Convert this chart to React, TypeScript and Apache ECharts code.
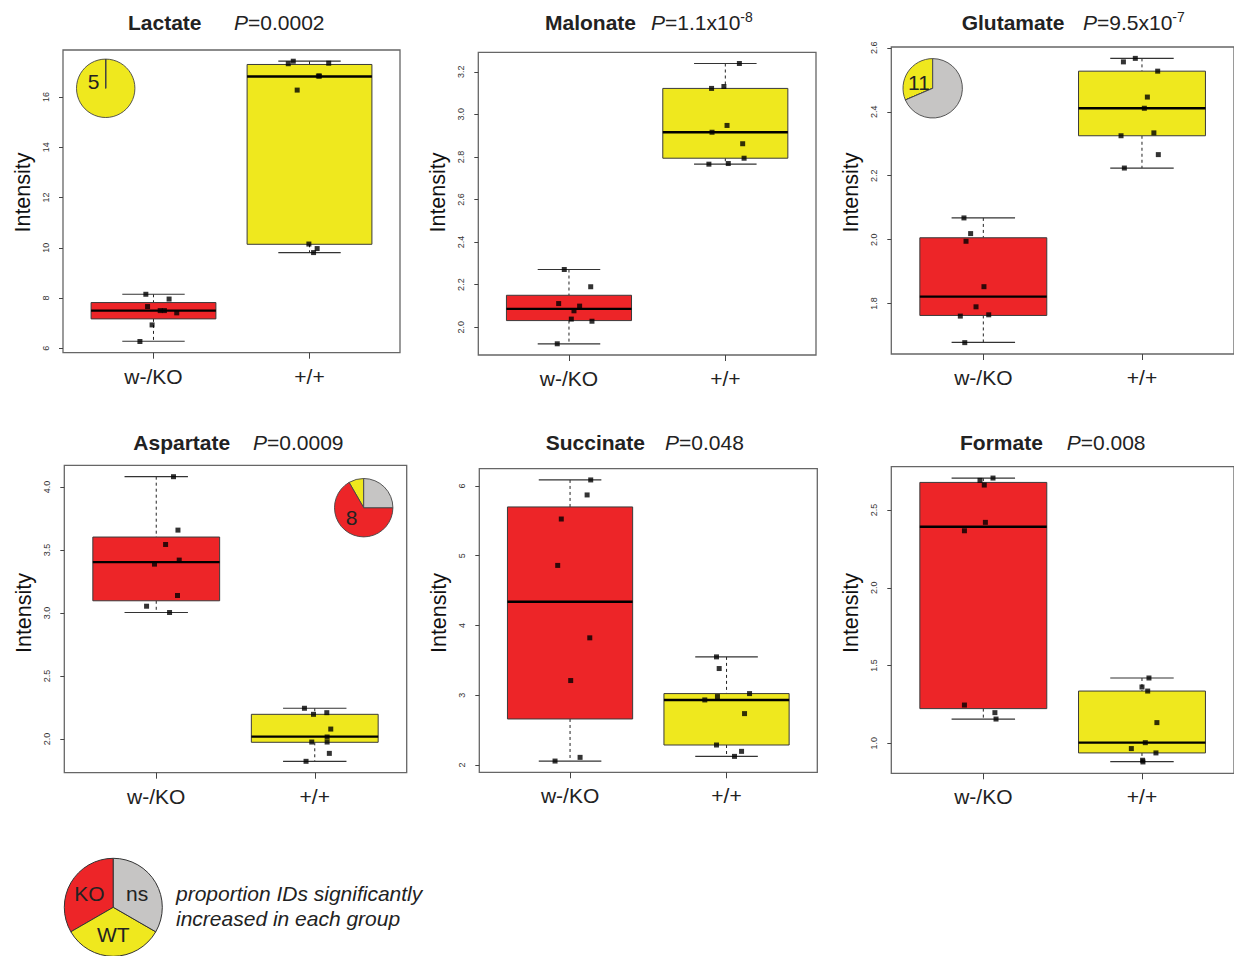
import React, { useEffect, useRef } from "react";
import * as echarts from "echarts";

// ---------- data ----------
const groups = ["w-/KO", "+/+"];
const metaboliteNames = ["Lactate", "Malonate", "Glutamate", "Aspartate", "Succinate", "Formate"];
const yAxisTitle = "Intensity";

const lactateP = "{i|P}{n|=0.0002}";
const malonateP = "{i|P}{n|=1.1x10}{s|-8}";
const glutamateP = "{i|P}{n|=9.5x10}{s|-7}";
const aspartateP = "{i|P}{n|=0.0009}";
const succinateP = "{i|P}{n|=0.048}";
const formateP = "{i|P}{n|=0.008}";

// box stats: [min, Q1, median, Q3, max]
const lactateBoxKO = [6.28, 7.17, 7.5, 7.82, 8.15];
const lactateBoxWT = [9.81, 10.14, 16.82, 17.3, 17.43];
const malonateBoxKO = [1.922, 2.031, 2.086, 2.15, 2.271];
const malonateBoxWT = [2.766, 2.794, 2.916, 3.122, 3.239];
const glutamateBoxKO = [1.679, 1.763, 1.822, 2.006, 2.068];
const glutamateBoxWT = [2.224, 2.325, 2.411, 2.527, 2.567];
const aspartateBoxKO = [3.004, 3.097, 3.404, 3.603, 4.082];
const aspartateBoxWT = [1.823, 1.974, 2.019, 2.196, 2.244];
const succinateBoxKO = [2.057, 2.66, 4.34, 5.699, 6.086];
const succinateBoxWT = [2.124, 2.287, 2.933, 3.024, 3.55];
const formateBoxKO = [1.156, 1.223, 2.393, 2.678, 2.706];
const formateBoxWT = [0.882, 0.938, 1.004, 1.336, 1.42];

// points: [jittered group position, intensity]
const lactatePtsKO = [[0.951, 8.15], [1.1, 7.96], [0.962, 7.66], [1.043, 7.5], [1.07, 7.5], [1.149, 7.41], [0.991, 6.93], [0.913, 6.27]];
const lactatePtsWT = [[1.864, 17.33], [1.896, 17.43], [2.123, 17.35], [2.057, 16.84], [2.064, 16.84], [1.921, 16.28], [1.996, 10.15], [2.049, 9.97], [2.026, 9.81]];
const malonatePtsKO = [[0.97, 2.271], [1.139, 2.19], [0.934, 2.111], [1.068, 2.099], [1.032, 2.077], [1.015, 2.038], [1.147, 2.028], [0.925, 1.922]];
const malonatePtsWT = [[2.09, 3.239], [1.912, 3.122], [1.991, 3.131], [2.011, 2.948], [1.915, 2.916], [2.111, 2.862], [2.12, 2.794], [1.895, 2.766], [2.019, 2.769]];
const glutamatePtsKO = [[0.878, 2.068], [0.92, 2.019], [0.891, 1.995], [1.004, 1.853], [0.954, 1.79], [0.855, 1.761], [1.034, 1.765], [0.883, 1.678]];
const glutamatePtsWT = [[1.958, 2.567], [1.883, 2.556], [2.099, 2.527], [2.034, 2.446], [2.015, 2.411], [1.868, 2.325], [2.075, 2.334], [2.103, 2.266], [1.889, 2.224]];
const aspartatePtsKO = [[1.109, 4.082], [1.137, 3.658], [1.059, 3.544], [1.145, 3.42], [0.989, 3.388], [1.134, 3.139], [0.939, 3.054], [1.084, 3.004]];
const aspartatePtsWT = [[1.935, 2.244], [1.992, 2.196], [2.076, 2.209], [2.101, 2.079], [2.078, 2.016], [1.981, 1.976], [2.078, 1.976], [2.092, 1.886], [1.945, 1.823]];
const succinatePtsKO = [[1.132, 6.086], [1.109, 5.871], [0.944, 5.526], [0.921, 4.861], [1.126, 3.823], [1.004, 3.211], [1.064, 2.11], [0.904, 2.057]];
const succinatePtsWT = [[1.936, 3.55], [1.953, 3.383], [2.147, 3.024], [1.942, 2.981], [1.861, 2.933], [2.115, 2.737], [1.936, 2.287], [2.096, 2.196], [2.051, 2.124]];
const formatePtsKO = [[1.061, 2.706], [0.979, 2.691], [1.006, 2.661], [1.013, 2.421], [0.881, 2.367], [0.881, 1.246], [1.073, 1.197], [1.08, 1.156]];
const formatePtsWT = [[2.044, 1.42], [2.0, 1.362], [2.036, 1.336], [2.094, 1.133], [2.021, 1.004], [1.933, 0.966], [2.088, 0.938], [2.004, 0.891], [2.006, 0.88]];

// y tick labels
const lactateTicks = ["6", "8", "10", "12", "14", "16"];
const malonateTicks = ["2.0", "2.2", "2.4", "2.6", "2.8", "3.0", "3.2"];
const glutamateTicks = ["1.8", "2.0", "2.2", "2.4", "2.6"];
const aspartateTicks = ["2.0", "2.5", "3.0", "3.5", "4.0"];
const succinateTicks = ["2", "3", "4", "5", "6"];
const formateTicks = ["1.0", "1.5", "2.0", "2.5"];

// inset pies: counts [WT, KO, ns]
const pieNames = ["WT", "KO", "ns"];
const lactatePie = [5, 0, 0];
const glutamatePie = [11, 0, 24];
const aspartatePie = [1, 8, 3];
const lactatePieLabel = "5";
const glutamatePieLabel = "11";
const aspartatePieLabel = "8";

// key pie
const keyNames = ["KO", "WT", "ns"];
const keyValues = [1, 1, 1];
const keyText1 = "proportion IDs significantly";
const keyText2 = "increased in each group";

// ---------- styles / layout ----------
const FONT = '"Liberation Sans", Arial, Helvetica, sans-serif';
const RED = "#ED2528";
const YELLOW = "#EFE81E";
const GRAY = "#C6C5C4";
const groupColors = [RED, YELLOW];
const pieColorMap: Record<string, string> = { WT: YELLOW, KO: RED, ns: GRAY };

const gridRects = [
  [63, 50, 337, 302.7],
  [478.3, 52.3, 337.7, 302.7],
  [891.3, 47, 343.4, 307],
  [64.3, 465.3, 342.4, 307.4],
  [479.3, 468.7, 338, 303.6],
  [891.3, 466.7, 343.4, 306.6],
];
const titlePos = [
  [128, 234, 22.7],
  [545, 651, 22.7],
  [961.7, 1083, 22.7],
  [133.3, 253, 442.7],
  [545.7, 665, 442.7],
  [960, 1066.7, 442.7],
];
// centre of the rotated "Intensity" label in each panel
const yTitlePos = [
  [22.5, 192.5],
  [437.5, 192.5],
  [851, 192.5],
  [23.5, 613],
  [438.5, 613],
  [851, 613],
];

const panels = [
  { p: lactateP, box: [lactateBoxKO, lactateBoxWT], pts: [lactatePtsKO, lactatePtsWT], ticks: lactateTicks },
  { p: malonateP, box: [malonateBoxKO, malonateBoxWT], pts: [malonatePtsKO, malonatePtsWT], ticks: malonateTicks },
  { p: glutamateP, box: [glutamateBoxKO, glutamateBoxWT], pts: [glutamatePtsKO, glutamatePtsWT], ticks: glutamateTicks },
  { p: aspartateP, box: [aspartateBoxKO, aspartateBoxWT], pts: [aspartatePtsKO, aspartatePtsWT], ticks: aspartateTicks },
  { p: succinateP, box: [succinateBoxKO, succinateBoxWT], pts: [succinatePtsKO, succinatePtsWT], ticks: succinateTicks },
  { p: formateP, box: [formateBoxKO, formateBoxWT], pts: [formatePtsKO, formatePtsWT], ticks: formateTicks },
];

const insetPies = [
  { values: lactatePie, center: [105.7, 88.3], r: 29.2, label: lactatePieLabel, lx: 93.5, ly: 81 },
  { values: glutamatePie, center: [932.7, 88.3], r: 29.7, label: glutamatePieLabel, lx: 919, ly: 82 },
  { values: aspartatePie, center: [363.7, 507.7], r: 29.2, label: aspartatePieLabel, lx: 351.7, ly: 517.5 },
];

const BOX_HALF = 0.4;
const STAPLE_HALF = 0.2;

function renderBox(params: any, api: any) {
  const x = api.value(0);
  const mn = api.value(1);
  const q1 = api.value(2);
  const md = api.value(3);
  const q3 = api.value(4);
  const mx = api.value(5);
  const [cx, yMax] = api.coord([x, mx]);
  const yQ3 = api.coord([x, q3])[1];
  const yMd = api.coord([x, md])[1];
  const yQ1 = api.coord([x, q1])[1];
  const yMin = api.coord([x, mn])[1];
  const xl = api.coord([x - BOX_HALF, md])[0];
  const xr = api.coord([x + BOX_HALF, md])[0];
  const sl = api.coord([x - STAPLE_HALF, md])[0];
  const sr = api.coord([x + STAPLE_HALF, md])[0];
  const fill = groupColors[params.dataIndex];
  const dash = { stroke: "#222", lineWidth: 1, lineDash: [3, 3] };
  const staple = { stroke: "#333", lineWidth: 1.2 };
  return {
    type: "group",
    children: [
      { type: "line", shape: { x1: cx, y1: yMax, x2: cx, y2: yQ3 }, style: dash },
      { type: "line", shape: { x1: cx, y1: yQ1, x2: cx, y2: yMin }, style: dash },
      { type: "line", shape: { x1: sl, y1: yMax, x2: sr, y2: yMax }, style: staple },
      { type: "line", shape: { x1: sl, y1: yMin, x2: sr, y2: yMin }, style: staple },
      { type: "rect", shape: { x: xl, y: yQ3, width: xr - xl, height: yQ1 - yQ3 }, style: { fill, stroke: "#3a3a3a", lineWidth: 1 } },
      { type: "line", shape: { x1: xl, y1: yMd, x2: xr, y2: yMd }, style: { stroke: "#000", lineWidth: 2.4 } },
    ],
  };
}

function buildOption() {
  const grid: any[] = [];
  const xAxis: any[] = [];
  const yAxis: any[] = [];
  const series: any[] = [];
  const graphic: any[] = [];

  panels.forEach((pn, i) => {
    const [l, t, w, h] = gridRects[i];
    grid.push({ left: l, top: t, width: w, height: h, show: true, borderColor: "#666", borderWidth: 1.3, backgroundColor: "transparent", containLabel: false });
    const allVals: number[] = [];
    pn.pts.forEach((g) => g.forEach((p) => allVals.push(p[1])));
    pn.box.forEach((b) => b.forEach((v) => allVals.push(v)));
    const lo = Math.min(...allVals);
    const hi = Math.max(...allVals);
    const pad = (hi - lo) * 0.04;
    const tickVals = pn.ticks.map(Number);
    xAxis.push({
      type: "value",
      gridIndex: i,
      min: 0.42,
      max: 2.58,
      axisLine: { show: false, onZero: false },
      splitLine: { show: false },
      axisTick: { show: true, customValues: [1, 2], length: 6, lineStyle: { color: "#444", width: 1 } },
      axisLabel: {
        customValues: [1, 2],
        formatter: (v: number) => groups[Math.round(v) - 1],
        fontFamily: FONT,
        fontSize: 21,
        color: "#222",
        margin: 13,
      },
    });
    yAxis.push({
      type: "value",
      gridIndex: i,
      min: lo - pad,
      max: hi + pad,
      axisLine: { show: false, onZero: false },
      splitLine: { show: false },
      axisTick: { show: true, customValues: tickVals, length: 4, lineStyle: { color: "#444", width: 1 } },
      axisLabel: {
        customValues: tickVals,
        formatter: (v: number) => {
          const k = tickVals.findIndex((tv) => Math.abs(tv - v) < 1e-9);
          return k >= 0 ? pn.ticks[k] : "";
        },
        rotate: 90,
        fontFamily: FONT,
        fontSize: 9,
        color: "#333",
        margin: 13,
      },
    });
    series.push({
      type: "custom",
      xAxisIndex: i,
      yAxisIndex: i,
      renderItem: renderBox,
      encode: { x: 0, y: [1, 2, 3, 4, 5] },
      data: pn.box.map((b, gi) => [gi + 1, ...b]),
      z: 2,
      silent: true,
    });
    series.push({
      type: "scatter",
      xAxisIndex: i,
      yAxisIndex: i,
      symbol: "rect",
      symbolSize: 5,
      itemStyle: { color: "#000" },
      data: [...pn.pts[0], ...pn.pts[1]],
      z: 5,
      silent: true,
    });
    const [nx, px, ty] = titlePos[i];
    graphic.push({
      type: "text",
      x: nx,
      y: ty,
      style: { text: metaboliteNames[i], fontFamily: FONT, fontSize: 21, fontWeight: "bold", fill: "#222", textAlign: "left", textVerticalAlign: "middle" },
    });
    graphic.push({
      type: "text",
      x: px,
      y: ty,
      style: {
        text: pn.p,
        textAlign: "left",
        textVerticalAlign: "middle",
        rich: {
          i: { fontFamily: FONT, fontSize: 21, fontStyle: "italic", fill: "#222", lineHeight: 26, verticalAlign: "middle" },
          n: { fontFamily: FONT, fontSize: 21, fill: "#222", lineHeight: 26, verticalAlign: "middle" },
          s: { fontFamily: FONT, fontSize: 14, fill: "#222", lineHeight: 16, verticalAlign: "top" },
        },
      },
    });
    const [yx, yy] = yTitlePos[i];
    graphic.push({
      type: "text",
      x: yx,
      y: yy,
      rotation: Math.PI / 2,
      style: { text: yAxisTitle, fontFamily: FONT, fontSize: 21.5, fill: "#111", textAlign: "center", textVerticalAlign: "middle" },
    });
  });

  insetPies.forEach((ip) => {
    series.push({
      type: "pie",
      center: ip.center,
      radius: ip.r,
      startAngle: 90,
      clockwise: false,
      silent: true,
      label: { show: false },
      labelLine: { show: false },
      itemStyle: { borderColor: "#444", borderWidth: 0.9 },
      data: ip.values.map((v, k) => ({ name: pieNames[k], value: v, itemStyle: { color: pieColorMap[pieNames[k]] } })),
      z: 6,
    });
    graphic.push({
      type: "text",
      x: ip.lx,
      y: ip.ly,
      z: 100,
      style: { text: ip.label, fontFamily: FONT, fontSize: 21, fill: "#222", textAlign: "center", textVerticalAlign: "middle" },
    });
  });

  series.push({
    type: "pie",
    center: [113.3, 907.3],
    radius: 49,
    startAngle: 90,
    clockwise: false,
    silent: true,
    label: { show: true, position: "inside", formatter: "{b}", fontFamily: FONT, fontSize: 21, color: "#222" },
    labelLine: { show: false },
    itemStyle: { borderColor: "#333", borderWidth: 1 },
    data: keyNames.map((n, k) => ({ name: n, value: keyValues[k], itemStyle: { color: pieColorMap[n] } })),
  });
  graphic.push({
    type: "text",
    x: 176,
    y: 893,
    style: { text: keyText1, fontFamily: FONT, fontSize: 21, fontStyle: "italic", fill: "#222", textAlign: "left", textVerticalAlign: "middle" },
  });
  graphic.push({
    type: "text",
    x: 176,
    y: 918.5,
    style: { text: keyText2, fontFamily: FONT, fontSize: 21, fontStyle: "italic", fill: "#222", textAlign: "left", textVerticalAlign: "middle" },
  });

  return {
    animation: false,
    backgroundColor: "#fff",
    grid,
    xAxis,
    yAxis,
    series,
    graphic,
  };
}

export default function App() {
  const ref = useRef<HTMLDivElement>(null);
  useEffect(() => {
    document.body.style.margin = "0";
    if (!ref.current) return;
    const chart = echarts.init(ref.current, undefined, { renderer: "svg" });
    chart.setOption(buildOption() as any);
    return () => chart.dispose();
  }, []);
  return <div ref={ref} style={{ width: 1234, height: 956 }} />;
}
